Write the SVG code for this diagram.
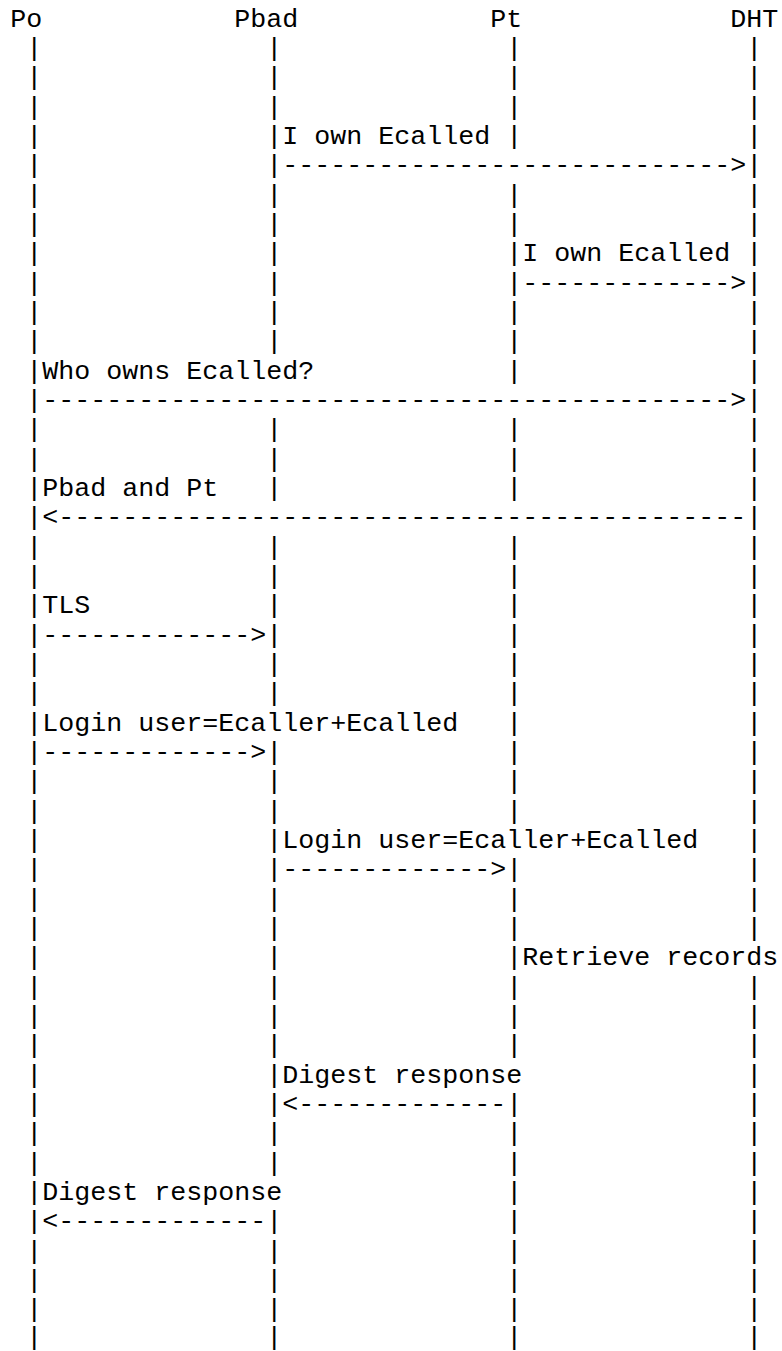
<svg xmlns="http://www.w3.org/2000/svg" width="782" height="1351" viewBox="0 0 782 1351">
<style>
text{font-family:"Liberation Mono","Courier New",monospace;font-size:26.667px;fill:#000;white-space:pre}
</style>
<rect width="782" height="1351" fill="#fff"/>
<g id="node-Po">
<text x="10.3" y="26.5">Po</text>
<text><tspan x="26.3" y="55.83">|</tspan><tspan x="26.3" y="85.17">|</tspan><tspan x="26.3" y="114.5">|</tspan><tspan x="26.3" y="143.83">|</tspan><tspan x="26.3" y="173.17">|</tspan><tspan x="26.3" y="202.5">|</tspan><tspan x="26.3" y="231.83">|</tspan><tspan x="26.3" y="261.17">|</tspan><tspan x="26.3" y="290.5">|</tspan><tspan x="26.3" y="319.83">|</tspan><tspan x="26.3" y="349.17">|</tspan><tspan x="26.3" y="378.5">|</tspan><tspan x="26.3" y="407.83">|</tspan><tspan x="26.3" y="437.17">|</tspan><tspan x="26.3" y="466.5">|</tspan><tspan x="26.3" y="495.83">|</tspan><tspan x="26.3" y="525.17">|</tspan><tspan x="26.3" y="554.5">|</tspan><tspan x="26.3" y="583.83">|</tspan><tspan x="26.3" y="613.17">|</tspan><tspan x="26.3" y="642.5">|</tspan><tspan x="26.3" y="671.83">|</tspan><tspan x="26.3" y="701.17">|</tspan><tspan x="26.3" y="730.5">|</tspan><tspan x="26.3" y="759.83">|</tspan><tspan x="26.3" y="789.17">|</tspan><tspan x="26.3" y="818.5">|</tspan><tspan x="26.3" y="847.83">|</tspan><tspan x="26.3" y="877.17">|</tspan><tspan x="26.3" y="906.5">|</tspan><tspan x="26.3" y="935.83">|</tspan><tspan x="26.3" y="965.17">|</tspan><tspan x="26.3" y="994.5">|</tspan><tspan x="26.3" y="1023.83">|</tspan><tspan x="26.3" y="1053.17">|</tspan><tspan x="26.3" y="1082.5">|</tspan><tspan x="26.3" y="1111.83">|</tspan><tspan x="26.3" y="1141.17">|</tspan><tspan x="26.3" y="1170.5">|</tspan><tspan x="26.3" y="1199.83">|</tspan><tspan x="26.3" y="1229.17">|</tspan><tspan x="26.3" y="1258.5">|</tspan><tspan x="26.3" y="1287.83">|</tspan><tspan x="26.3" y="1317.17">|</tspan><tspan x="26.3" y="1344.8">|</tspan></text>
</g>
<g id="node-Pbad">
<text x="234.3" y="26.5">Pbad</text>
<text><tspan x="266.3" y="55.83">|</tspan><tspan x="266.3" y="85.17">|</tspan><tspan x="266.3" y="114.5">|</tspan><tspan x="266.3" y="143.83">|</tspan><tspan x="266.3" y="173.17">|</tspan><tspan x="266.3" y="202.5">|</tspan><tspan x="266.3" y="231.83">|</tspan><tspan x="266.3" y="261.17">|</tspan><tspan x="266.3" y="290.5">|</tspan><tspan x="266.3" y="319.83">|</tspan><tspan x="266.3" y="349.17">|</tspan><tspan x="266.3" y="437.17">|</tspan><tspan x="266.3" y="466.5">|</tspan><tspan x="266.3" y="495.83">|</tspan><tspan x="266.3" y="554.5">|</tspan><tspan x="266.3" y="583.83">|</tspan><tspan x="266.3" y="613.17">|</tspan><tspan x="266.3" y="642.5">|</tspan><tspan x="266.3" y="671.83">|</tspan><tspan x="266.3" y="701.17">|</tspan><tspan x="266.3" y="759.83">|</tspan><tspan x="266.3" y="789.17">|</tspan><tspan x="266.3" y="818.5">|</tspan><tspan x="266.3" y="847.83">|</tspan><tspan x="266.3" y="877.17">|</tspan><tspan x="266.3" y="906.5">|</tspan><tspan x="266.3" y="935.83">|</tspan><tspan x="266.3" y="965.17">|</tspan><tspan x="266.3" y="994.5">|</tspan><tspan x="266.3" y="1023.83">|</tspan><tspan x="266.3" y="1053.17">|</tspan><tspan x="266.3" y="1082.5">|</tspan><tspan x="266.3" y="1111.83">|</tspan><tspan x="266.3" y="1141.17">|</tspan><tspan x="266.3" y="1170.5">|</tspan><tspan x="266.3" y="1229.17">|</tspan><tspan x="266.3" y="1258.5">|</tspan><tspan x="266.3" y="1287.83">|</tspan><tspan x="266.3" y="1317.17">|</tspan><tspan x="266.3" y="1344.8">|</tspan></text>
</g>
<g id="node-Pt">
<text x="490.3" y="26.5">Pt</text>
<text><tspan x="506.3" y="55.83">|</tspan><tspan x="506.3" y="85.17">|</tspan><tspan x="506.3" y="114.5">|</tspan><tspan x="506.3" y="143.83">|</tspan><tspan x="506.3" y="202.5">|</tspan><tspan x="506.3" y="231.83">|</tspan><tspan x="506.3" y="261.17">|</tspan><tspan x="506.3" y="290.5">|</tspan><tspan x="506.3" y="319.83">|</tspan><tspan x="506.3" y="349.17">|</tspan><tspan x="506.3" y="378.5">|</tspan><tspan x="506.3" y="437.17">|</tspan><tspan x="506.3" y="466.5">|</tspan><tspan x="506.3" y="495.83">|</tspan><tspan x="506.3" y="554.5">|</tspan><tspan x="506.3" y="583.83">|</tspan><tspan x="506.3" y="613.17">|</tspan><tspan x="506.3" y="642.5">|</tspan><tspan x="506.3" y="671.83">|</tspan><tspan x="506.3" y="701.17">|</tspan><tspan x="506.3" y="730.5">|</tspan><tspan x="506.3" y="759.83">|</tspan><tspan x="506.3" y="789.17">|</tspan><tspan x="506.3" y="818.5">|</tspan><tspan x="506.3" y="877.17">|</tspan><tspan x="506.3" y="906.5">|</tspan><tspan x="506.3" y="935.83">|</tspan><tspan x="506.3" y="965.17">|</tspan><tspan x="506.3" y="994.5">|</tspan><tspan x="506.3" y="1023.83">|</tspan><tspan x="506.3" y="1053.17">|</tspan><tspan x="506.3" y="1111.83">|</tspan><tspan x="506.3" y="1141.17">|</tspan><tspan x="506.3" y="1170.5">|</tspan><tspan x="506.3" y="1199.83">|</tspan><tspan x="506.3" y="1229.17">|</tspan><tspan x="506.3" y="1258.5">|</tspan><tspan x="506.3" y="1287.83">|</tspan><tspan x="506.3" y="1317.17">|</tspan><tspan x="506.3" y="1344.8">|</tspan></text>
</g>
<g id="node-DHT">
<text x="730.3" y="26.5">DHT</text>
<text><tspan x="746.3" y="55.83">|</tspan><tspan x="746.3" y="85.17">|</tspan><tspan x="746.3" y="114.5">|</tspan><tspan x="746.3" y="143.83">|</tspan><tspan x="746.3" y="173.17">|</tspan><tspan x="746.3" y="202.5">|</tspan><tspan x="746.3" y="231.83">|</tspan><tspan x="746.3" y="261.17">|</tspan><tspan x="746.3" y="290.5">|</tspan><tspan x="746.3" y="319.83">|</tspan><tspan x="746.3" y="349.17">|</tspan><tspan x="746.3" y="378.5">|</tspan><tspan x="746.3" y="407.83">|</tspan><tspan x="746.3" y="437.17">|</tspan><tspan x="746.3" y="466.5">|</tspan><tspan x="746.3" y="495.83">|</tspan><tspan x="746.3" y="525.17">|</tspan><tspan x="746.3" y="554.5">|</tspan><tspan x="746.3" y="583.83">|</tspan><tspan x="746.3" y="613.17">|</tspan><tspan x="746.3" y="642.5">|</tspan><tspan x="746.3" y="671.83">|</tspan><tspan x="746.3" y="701.17">|</tspan><tspan x="746.3" y="730.5">|</tspan><tspan x="746.3" y="759.83">|</tspan><tspan x="746.3" y="789.17">|</tspan><tspan x="746.3" y="818.5">|</tspan><tspan x="746.3" y="847.83">|</tspan><tspan x="746.3" y="877.17">|</tspan><tspan x="746.3" y="906.5">|</tspan><tspan x="746.3" y="935.83">|</tspan><tspan x="746.3" y="994.5">|</tspan><tspan x="746.3" y="1023.83">|</tspan><tspan x="746.3" y="1053.17">|</tspan><tspan x="746.3" y="1082.5">|</tspan><tspan x="746.3" y="1111.83">|</tspan><tspan x="746.3" y="1141.17">|</tspan><tspan x="746.3" y="1170.5">|</tspan><tspan x="746.3" y="1199.83">|</tspan><tspan x="746.3" y="1229.17">|</tspan><tspan x="746.3" y="1258.5">|</tspan><tspan x="746.3" y="1287.83">|</tspan><tspan x="746.3" y="1317.17">|</tspan><tspan x="746.3" y="1344.8">|</tspan></text>
</g>
<g id="connectors">
<text x="282.3" y="143.83">I own Ecalled</text>
<text x="282.3" y="173.17">----------------------------&gt;</text>
<text x="522.3" y="261.17">I own Ecalled</text>
<text x="522.3" y="290.5">-------------&gt;</text>
<text x="42.3" y="378.5">Who owns Ecalled?</text>
<text x="42.3" y="407.83">-------------------------------------------&gt;</text>
<text x="42.3" y="495.83">Pbad and Pt</text>
<text x="42.3" y="525.17">&lt;-------------------------------------------</text>
<text x="42.3" y="613.17">TLS</text>
<text x="42.3" y="642.5">-------------&gt;</text>
<text x="42.3" y="730.5">Login user=Ecaller+Ecalled</text>
<text x="42.3" y="759.83">-------------&gt;</text>
<text x="282.3" y="847.83">Login user=Ecaller+Ecalled</text>
<text x="282.3" y="877.17">-------------&gt;</text>
<text x="522.3" y="965.17">Retrieve records</text>
<text x="282.3" y="1082.5">Digest response</text>
<text x="282.3" y="1111.83">&lt;-------------</text>
<text x="42.3" y="1199.83">Digest response</text>
<text x="42.3" y="1229.17">&lt;-------------</text>
</g>
</svg>
